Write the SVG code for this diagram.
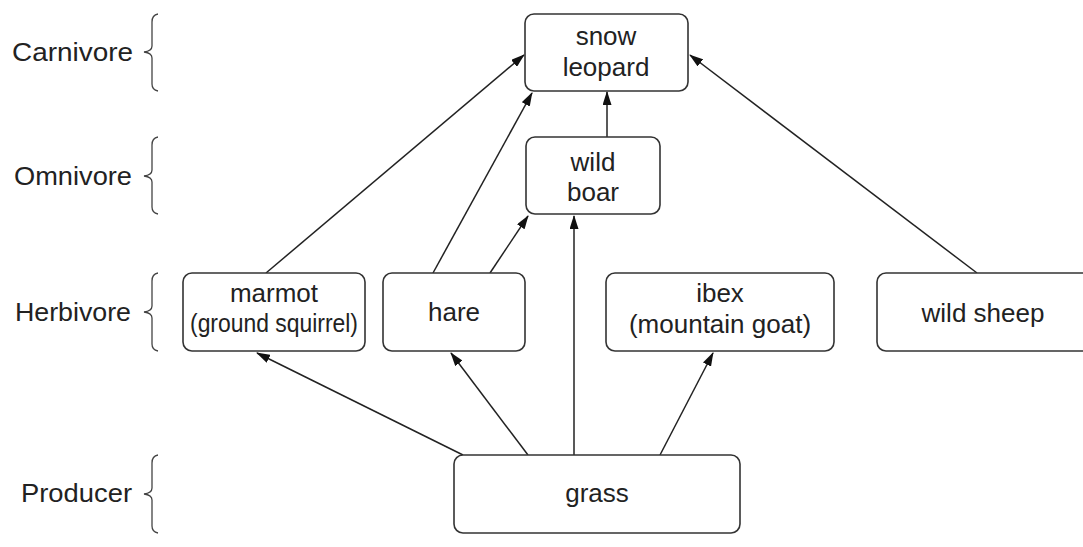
<svg xmlns="http://www.w3.org/2000/svg" width="1083" height="547" viewBox="0 0 1083 547">
<style>
.box{fill:#fff;stroke:#333;stroke-width:1.6}
.t{font-family:"Liberation Sans",Arial,sans-serif;font-size:26px;fill:#222;text-anchor:middle}
.lbl{font-family:"Liberation Sans",Arial,sans-serif;font-size:26px;fill:#222}
.br{fill:none;stroke:#444;stroke-width:1.3}
.c{stroke:#222;stroke-width:1.5;fill:none;marker-end:url(#ah)}
</style>
<defs>
<marker id="ah" markerUnits="userSpaceOnUse" markerWidth="14" markerHeight="9" refX="13" refY="4.5" orient="auto">
<path d="M0,0 L14,4.5 L0,9 z" fill="#111"/>
</marker>
</defs>
<rect width="1083" height="547" fill="#fff"/>
<g id="labels">
<text class="lbl" x="12" y="61" textLength="121" lengthAdjust="spacingAndGlyphs">Carnivore</text>
<path class="br" d="M158,14 Q152,15 152,22 L152,46 Q152,51 144,52 Q152,53 152,58 L152,84 Q152,90 158,91"/>
<text class="lbl" x="14" y="185" textLength="118" lengthAdjust="spacingAndGlyphs">Omnivore</text>
<path class="br" d="M158,137 Q152,138 152,145 L152,170 Q152,175 144,176 Q152,177 152,182 L152,207 Q152,213 158,214"/>
<text class="lbl" x="15" y="321" textLength="116" lengthAdjust="spacingAndGlyphs">Herbivore</text>
<path class="br" d="M158,273 Q152,274 152,281 L152,306 Q152,311 144,312 Q152,313 152,318 L152,344 Q152,350 158,351"/>
<text class="lbl" x="21" y="502" textLength="111" lengthAdjust="spacingAndGlyphs">Producer</text>
<path class="br" d="M158,455 Q152,456 152,463 L152,488 Q152,493 144,494 Q152,495 152,500 L152,526 Q152,532 158,533"/>
</g>
<g id="connectors">
<line class="c" x1="266" y1="273" x2="524" y2="55"/>
<line class="c" x1="433" y1="273" x2="532" y2="93"/>
<line class="c" x1="490" y1="273" x2="528" y2="216"/>
<line class="c" x1="607" y1="137" x2="607" y2="92"/>
<line class="c" x1="977" y1="273" x2="690" y2="55"/>
<line class="c" x1="463" y1="455" x2="257" y2="353"/>
<line class="c" x1="528" y1="455" x2="451" y2="353"/>
<line class="c" x1="574" y1="455" x2="574" y2="216"/>
<line class="c" x1="660" y1="455" x2="713" y2="353"/>
</g>
<g id="snow-leopard">
<rect class="box" x="525" y="14" width="163" height="77" rx="9"/>
<text class="t" x="606" y="45">snow</text>
<text class="t" x="606" y="76">leopard</text>
</g>
<g id="wild-boar">
<rect class="box" x="526" y="137" width="134" height="77" rx="9"/>
<text class="t" x="593" y="171">wild</text>
<text class="t" x="593" y="201">boar</text>
</g>
<g id="marmot">
<rect class="box" x="183" y="273" width="182" height="78" rx="9"/>
<text class="t" x="274" y="302">marmot</text>
<text class="t" x="274" y="332" textLength="168" lengthAdjust="spacingAndGlyphs">(ground squirrel)</text>
</g>
<g id="hare">
<rect class="box" x="383" y="273" width="142" height="78" rx="9"/>
<text class="t" x="454" y="321">hare</text>
</g>
<g id="ibex">
<rect class="box" x="606" y="273" width="228" height="78" rx="9"/>
<text class="t" x="720" y="302">ibex</text>
<text class="t" x="720" y="333">(mountain goat)</text>
</g>
<g id="wild-sheep">
<rect class="box" x="877" y="273" width="215" height="78" rx="9"/>
<text class="t" x="983" y="322">wild sheep</text>
</g>
<g id="grass">
<rect class="box" x="454" y="455" width="286" height="78" rx="9"/>
<text class="t" x="597" y="502">grass</text>
</g>
</svg>
